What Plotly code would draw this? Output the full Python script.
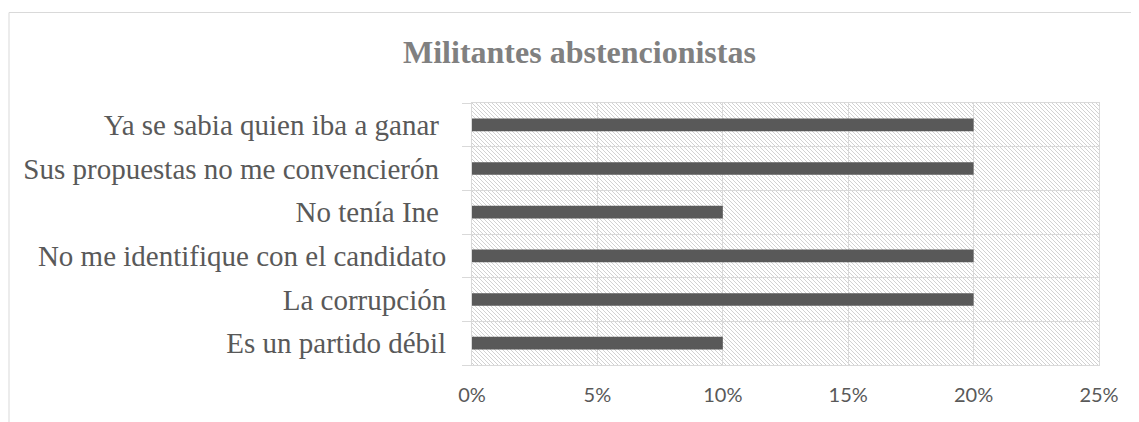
import base64
import plotly.graph_objects as go

# ---- data (bottom to top) ----
categories = [
    "Es un partido débil",
    "La corrupción",
    "No me identifique con el candidato",
    "No tenía Ine\u00a0",
    "Sus propuestas no me convencierón\u00a0",
    "Ya se sabia quien iba a ganar\u00a0",
]
values = [0.10, 0.20, 0.20, 0.10, 0.20, 0.20]
x_tick_values = [0, 0.05, 0.10, 0.15, 0.20, 0.25]
x_tick_labels = ["0%", "5%", "10%", "15%", "20%", "25%"]
title_text = "Militantes abstencionistas"

# page body has an 8px default margin, so the figure is sized to fit inside the window
W, H = 1131, 414
ML, MR, MT, MB = 464, 40, 95, 57
PW, PH = W - ML - MR, H - MT - MB

GRID = "#d9d9d9"
TEXT = "#595959"

# hatched plot background (decoration) as an inline SVG image
tile = 4
rects = "".join(
    f"<rect x='{i}' y='{i}' width='1' height='1' fill='#d2d2d2'/>" for i in range(tile)
)
svg = (
    f"<svg xmlns='http://www.w3.org/2000/svg' width='{PW}' height='{PH}' shape-rendering='crispEdges'>"
    f"<defs><pattern id='p' width='{tile}' height='{tile}' patternUnits='userSpaceOnUse'>"
    f"<rect width='{tile}' height='{tile}' fill='#ffffff'/>{rects}</pattern></defs>"
    f"<rect width='{PW}' height='{PH}' fill='url(#p)'/></svg>"
)
hatch_src = "data:image/svg+xml;base64," + base64.b64encode(svg.encode()).decode()

fig = go.Figure()
fig.add_trace(
    go.Bar(
        y=categories,
        x=values,
        orientation="h",
        width=0.29,
        marker=dict(color="#595959", line=dict(width=0)),
        hoverinfo="x+y",
    )
)

fig.update_layout(
    width=W,
    height=H,
    margin=dict(l=ML, r=MR, t=MT, b=MB, pad=0),
    paper_bgcolor="white",
    plot_bgcolor="rgba(0,0,0,0)",
    showlegend=False,
    images=[
        dict(
            source=hatch_src,
            xref="x domain",
            yref="y domain",
            x=0,
            y=1,
            sizex=1,
            sizey=1,
            xanchor="left",
            yanchor="top",
            sizing="stretch",
            layer="below",
        )
    ],
    xaxis=dict(
        range=[0, 0.25],
        tickvals=x_tick_values,
        ticktext=x_tick_labels,
        showgrid=True,
        gridcolor=GRID,
        gridwidth=1,
        showline=True,
        linecolor=GRID,
        linewidth=1,
        mirror=True,
        ticks="",
        zeroline=False,
        tickfont=dict(family="Lato, Open Sans, sans-serif", size=20, color=TEXT),
        ticklabelstandoff=12,
        fixedrange=True,
    ),
    yaxis=dict(
        categoryorder="array",
        categoryarray=categories,
        tickson="boundaries",
        ticks="outside",
        ticklen=9,
        tickcolor=GRID,
        tickwidth=1,
        showgrid=True,
        gridcolor=GRID,
        gridwidth=1,
        showline=True,
        linecolor=GRID,
        linewidth=1,
        mirror=True,
        tickfont=dict(family="Liberation Serif, Times New Roman, serif", size=29, color=TEXT),
        ticklabelstandoff=19,
        fixedrange=True,
    ),
    annotations=[
        dict(
            text="<b>" + title_text + "</b>",
            xref="paper",
            yref="paper",
            x=(571 - ML) / PW,
            y=(H - MB - 44) / PH,
            xanchor="center",
            yanchor="middle",
            showarrow=False,
            font=dict(family="Liberation Serif, Times New Roman, serif", size=32, color="#808080"),
        )
    ],
    shapes=[
        dict(
            type="rect",
            xref="paper",
            yref="paper",
            x0=(1 - ML) / PW,
            x1=(W + 10 - ML) / PW,
            y0=(H - MB - (H + 10)) / PH,
            y1=(H - MB - 4.5) / PH,
            line=dict(color=GRID, width=1),
            fillcolor="rgba(0,0,0,0)",
            layer="below",
        )
    ],
)

fig.write_html("out.html")
